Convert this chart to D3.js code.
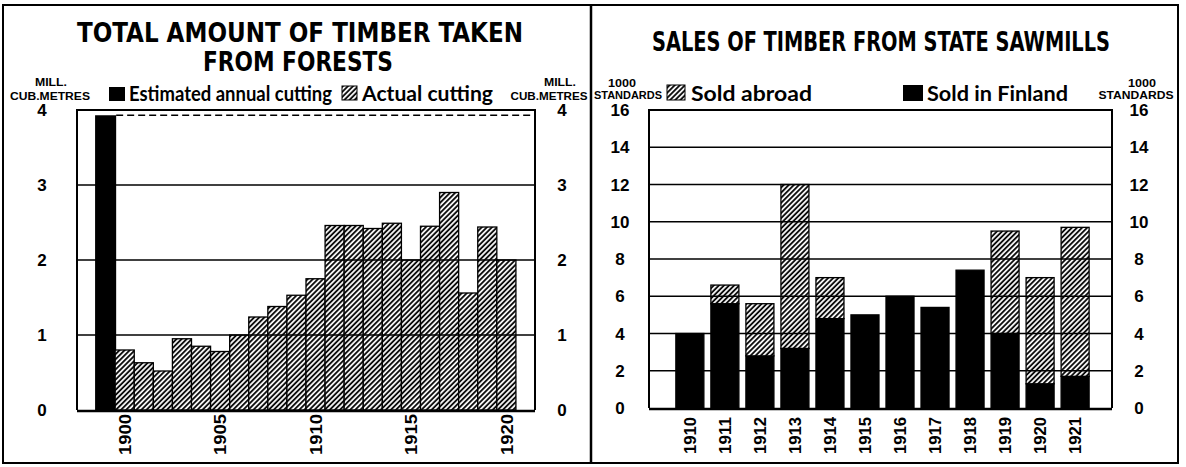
<!DOCTYPE html>
<html>
<head>
<meta charset="utf-8">
<script src="https://cdn.jsdelivr.net/npm/d3@7"></script>
<style>
  body { margin: 0; background: #fff; }
  svg { display: block; }
</style>
</head>
<body>
<div></div>
<script>
// left chart: total timber taken (mill. cub. metres)
const cutYears = ["1900","1901","1902","1903","1904","1905","1906","1907","1908","1909","1910",
                  "1911","1912","1913","1914","1915","1916","1917","1918","1919","1920"];
const actualCutting = [0.80,0.63,0.52,0.95,0.85,0.78,1.00,1.24,1.38,1.53,1.75,
                       2.46,2.46,2.42,2.49,2.00,2.45,2.90,1.56,2.44,2.00];
const estimatedCutting = 3.93;
const cutTicks = [0,1,2,3,4];
const cutLabelYears = ["1900","1905","1910","1915","1920"];

// right chart: sales from state sawmills (1000 standards)
const saleYears = ["1910","1911","1912","1913","1914","1915","1916","1917","1918","1919","1920","1921"];
const soldFinland = [4.0,5.6,2.8,3.2,4.8,5.0,6.0,5.4,7.4,4.0,1.3,1.7];
const soldAbroad  = [0.0,1.0,2.8,8.8,2.2,0.0,0.0,0.0,0.0,5.5,5.7,8.0];
const saleTicks = [0,2,4,6,8,10,12,14,16];

const W = 1186, H = 467;
const font = "'Liberation Sans', Arial, sans-serif";
const narrow = "'DejaVu Sans Condensed', 'Liberation Sans Narrow', 'Liberation Sans', sans-serif";
const legendFont = "Lato, 'Liberation Sans', sans-serif";

const svg = d3.select('div').append('svg')
    .attr('width', W).attr('height', H)
    .attr('viewBox', `0 0 ${W} ${H}`);

const defs = svg.append('defs');
defs.append('pattern')
    .attr('id', 'hatch')
    .attr('patternUnits', 'userSpaceOnUse')
    .attr('width', 3.6).attr('height', 3.6)
    .attr('patternTransform', 'rotate(45)')
    .call(p => p.append('rect').attr('width', 3.6).attr('height', 3.6).attr('fill', '#fff'))
    .append('line')
    .attr('x1', 1).attr('y1', 0).attr('x2', 1).attr('y2', 3.6)
    .attr('stroke', '#000').attr('stroke-width', 1.8);

svg.append('rect').attr('width', W).attr('height', H).attr('fill', '#fff');

// outer frame + divider
svg.append('rect')
    .attr('x', 3).attr('y', 5).attr('width', 1175).attr('height', 458)
    .attr('fill', 'none').attr('stroke', '#000').attr('stroke-width', 2);
svg.append('line')
    .attr('x1', 591).attr('x2', 591).attr('y1', 5).attr('y2', 463)
    .attr('stroke', '#000').attr('stroke-width', 2.5);

function txt(g, s, x, y, o) {
    const t = g.append('text').attr('x', x).attr('y', y).text(s)
        .attr('font-family', o.family || font)
        .attr('font-weight', o.weight || 'bold')
        .attr('font-size', o.size)
        .attr('text-anchor', o.anchor || 'middle')
        .attr('fill', '#000');
    if (o.len) t.attr('textLength', o.len).attr('lengthAdjust', 'spacingAndGlyphs');
    return t;
}

// ---------- LEFT CHART ----------
const L = svg.append('g');
const xL = d3.scaleBand()
    .domain(["est", ...cutYears])
    .range([77, 535])
    .paddingInner(0)
    .paddingOuter(1);
const yL = d3.scaleLinear().domain([0, 4]).range([410, 110]);

txt(L, "TOTAL AMOUNT OF TIMBER TAKEN", 300, 42, {family: narrow, size: 26, len: 446});
txt(L, "FROM FORESTS", 298, 71, {family: narrow, size: 26, len: 190});

// units + legend
txt(L, "MILL.", 51, 86, {size: 10.5, len: 32});
txt(L, "CUB.METRES", 50, 100, {size: 10.5, len: 80});
txt(L, "MILL.", 560, 86, {size: 10.5, len: 32});
txt(L, "CUB.METRES", 549, 100, {size: 10.5, len: 77});
L.append('rect').attr('x', 109).attr('y', 87).attr('width', 16).attr('height', 14).attr('fill', '#000');
txt(L, "Estimated annual cutting", 129, 101, {family: legendFont, weight: 'bold', size: 21, anchor: 'start', len: 203});
L.append('rect').attr('x', 342).attr('y', 86).attr('width', 15).attr('height', 14)
    .attr('fill', 'url(#hatch)').attr('stroke', '#000').attr('stroke-width', 1);
txt(L, "Actual cutting", 362, 101, {family: legendFont, weight: 'bold', size: 21, anchor: 'start', len: 131});

// bars
L.append('rect')
    .attr('x', xL("est") - 1).attr('width', xL.bandwidth() + 2)
    .attr('y', yL(estimatedCutting)).attr('height', yL(0) - yL(estimatedCutting))
    .attr('fill', '#000');
L.selectAll('rect.cut')
    .data(actualCutting)
    .join('rect')
    .attr('class', 'cut')
    .attr('x', (d, i) => xL(cutYears[i]))
    .attr('width', xL.bandwidth())
    .attr('y', d => yL(d))
    .attr('height', d => yL(0) - yL(d))
    .attr('fill', 'url(#hatch)')
    .attr('stroke', '#000').attr('stroke-width', 1.3);

// grid lines (drawn over the bars)
L.selectAll('line.grid')
    .data(cutTicks.filter(t => t > 0 && t < 4))
    .join('line')
    .attr('x1', 77).attr('x2', 535)
    .attr('y1', d => yL(d)).attr('y2', d => yL(d))
    .attr('stroke', '#000').attr('stroke-width', 1.6);

// dashed estimate line
L.append('line')
    .attr('x1', xL("est") + xL.bandwidth() + 1).attr('x2', 535)
    .attr('y1', yL(estimatedCutting)).attr('y2', yL(estimatedCutting))
    .attr('stroke', '#000').attr('stroke-width', 1.5)
    .attr('stroke-dasharray', '7,4');

// plot frame
L.append('path')
    .attr('d', `M77,${yL(0)}V${yL(4)}H535V${yL(0)}`)
    .attr('fill', 'none').attr('stroke', '#000').attr('stroke-width', 2);
L.append('line').attr('x1', 77).attr('x2', 535).attr('y1', yL(0) + 1).attr('y2', yL(0) + 1)
    .attr('stroke', '#000').attr('stroke-width', 2.5);

// y tick labels both sides
[42, 562].forEach(x => {
    L.selectAll(null)
        .data(cutTicks)
        .join('text')
        .attr('x', x).attr('y', d => yL(d)).attr('dy', '0.36em')
        .attr('text-anchor', 'middle')
        .attr('font-family', font).attr('font-weight', 'bold').attr('font-size', 17)
        .text(d => d);
});

// x labels
L.selectAll('text.yr')
    .data(cutLabelYears)
    .join('text')
    .attr('class', 'yr')
    .attr('transform', d => `translate(${xL(d) + xL.bandwidth() / 2},414) rotate(-90)`)
    .attr('dy', '0.36em')
    .attr('text-anchor', 'end')
    .attr('font-family', font).attr('font-weight', 'bold').attr('font-size', 17)
    .attr('textLength', 41).attr('lengthAdjust', 'spacingAndGlyphs')
    .text(d => d);

// ---------- RIGHT CHART ----------
const R = svg.append('g');
const xR = d3.scaleBand()
    .domain(saleYears)
    .range([649, 1112])
    .paddingInner(0.2)
    .paddingOuter(0.71)
    .align(0.54);
const yR = d3.scaleLinear().domain([0, 16]).range([408, 110]);

txt(R, "SALES OF TIMBER FROM STATE SAWMILLS", 881, 51, {family: narrow, size: 26, len: 458});

txt(R, "1000", 622, 87, {size: 10.5, len: 28});
txt(R, "STANDARDS", 628, 99, {size: 10.5, len: 68});
txt(R, "1000", 1142, 87, {size: 10.5, len: 28});
txt(R, "STANDARDS", 1136, 99, {size: 10.5, len: 75});
R.append('rect').attr('x', 667).attr('y', 85).attr('width', 18).attr('height', 15)
    .attr('fill', 'url(#hatch)').attr('stroke', '#000').attr('stroke-width', 1);
txt(R, "Sold abroad", 691, 101, {family: legendFont, weight: 'bold', size: 21, anchor: 'start', len: 121});
R.append('rect').attr('x', 903).attr('y', 85).attr('width', 20).attr('height', 16).attr('fill', '#000');
txt(R, "Sold in Finland", 927, 101, {family: legendFont, weight: 'bold', size: 21, anchor: 'start', len: 141});

const rows = saleYears.map((y, i) => ({year: y, finland: soldFinland[i], abroad: soldAbroad[i]}));
const stack = d3.stack().keys(["finland", "abroad"])(rows);

R.selectAll('g.layer')
    .data(stack)
    .join('g')
    .attr('class', 'layer')
    .attr('fill', d => d.key === "finland" ? '#000' : 'url(#hatch)')
    .selectAll('rect')
    .data(d => d.filter(s => s[1] - s[0] > 0))
    .join('rect')
    .attr('x', d => xR(d.data.year))
    .attr('width', xR.bandwidth())
    .attr('y', d => yR(d[1]))
    .attr('height', d => yR(d[0]) - yR(d[1]))
    .attr('stroke', '#000').attr('stroke-width', 1.3);

R.selectAll('line.grid')
    .data(saleTicks.filter(t => t > 0 && t < 16))
    .join('line')
    .attr('x1', 649).attr('x2', 1112)
    .attr('y1', d => yR(d)).attr('y2', d => yR(d))
    .attr('stroke', '#000').attr('stroke-width', 1.6);

R.append('path')
    .attr('d', `M649,${yR(0)}V${yR(16)}H1112V${yR(0)}`)
    .attr('fill', 'none').attr('stroke', '#000').attr('stroke-width', 2);
R.append('line').attr('x1', 649).attr('x2', 1112).attr('y1', yR(0) + 1).attr('y2', yR(0) + 1)
    .attr('stroke', '#000').attr('stroke-width', 2.5);

[620, 1139].forEach(x => {
    R.selectAll(null)
        .data(saleTicks)
        .join('text')
        .attr('x', x).attr('y', d => yR(d)).attr('dy', '0.36em')
        .attr('text-anchor', 'middle')
        .attr('font-family', font).attr('font-weight', 'bold').attr('font-size', 17)
        .text(d => d);
});

R.selectAll('text.yr')
    .data(saleYears)
    .join('text')
    .attr('class', 'yr')
    .attr('transform', d => `translate(${xR(d) + xR.bandwidth() / 2},417) rotate(-90)`)
    .attr('dy', '0.36em')
    .attr('text-anchor', 'end')
    .attr('font-family', font).attr('font-weight', 'bold').attr('font-size', 17)
    .attr('textLength', 37).attr('lengthAdjust', 'spacingAndGlyphs')
    .text(d => d);
</script>
</body>
</html>
